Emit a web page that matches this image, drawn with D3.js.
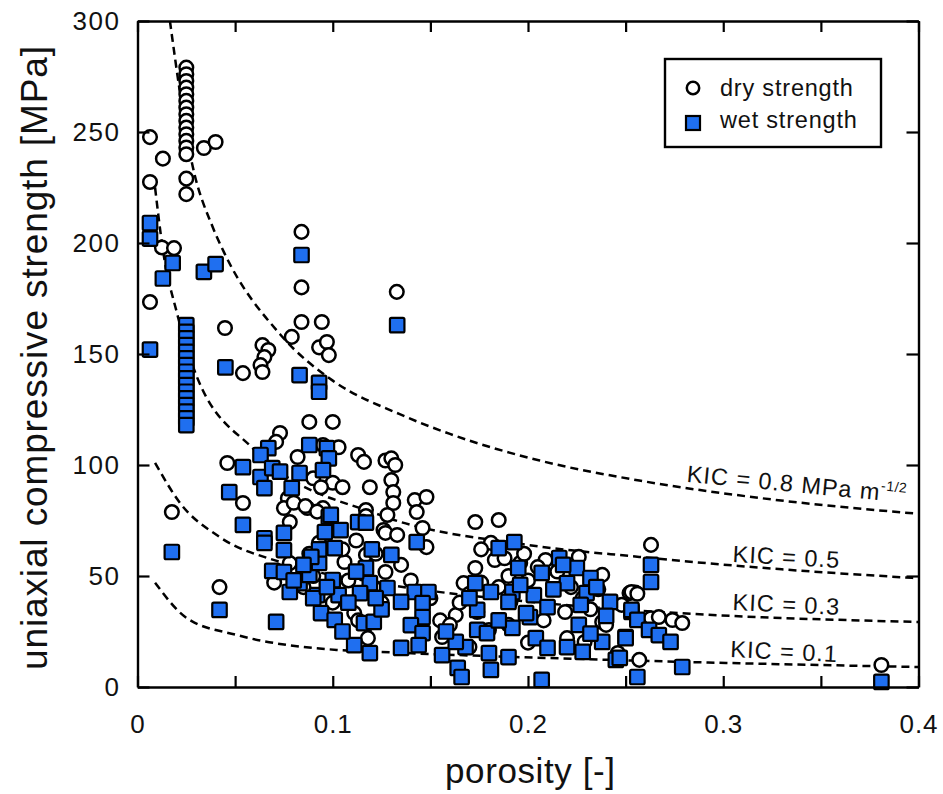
<!DOCTYPE html>
<html><head><meta charset="utf-8">
<script src="https://cdn.jsdelivr.net/npm/d3@7"></script>
<style>body{margin:0;background:#fff}text{font-family:"Liberation Sans",Arial,sans-serif;fill:#111}</style>
</head><body><svg id="c" width="943" height="794"></svg>
<script>
// ---------- data ----------
const xTickValues = [0, 0.05, 0.1, 0.15, 0.2, 0.25, 0.3, 0.35, 0.4];
const xTickLabels = ["0", "", "0.1", "", "0.2", "", "0.3", "", "0.4"];
const yTickValues = [0, 50, 100, 150, 200, 250, 300];
const yTickLabels = ["0", "50", "100", "150", "200", "250", "300"];

const dryPorosity = [
 0.025,0.025,0.025,0.025,0.025,0.025,0.025,0.025,0.025,0.025,0.025,0.025,0.025,0.025,0.025,0.025,
 0.0064,0.013,0.034,0.040,0.0064,0.0125,0.0187,0.0064,0.0448,0.084,0.084,0.084,0.0944,0.1328,0.079,0.064,
 0.067,0.065,0.063,0.064,0.054,0.093,0.097,0.098,0.088,0.1,0.073,0.071,0.046,0.082,0.095,0.103,
 0.113,0.116,0.119,0.1,0.105,0.09,0.094,0.077,0.075,0.078,0.054,0.0176,0.087,0.127,0.126,0.095,
 0.117,0.042,0.08,0.086,0.078,0.092,0.106,0.111,0.117,0.122,0.117,
 0.130,0.132,0.130,0.131,0.131,0.128,0.127,0.133,0.142,0.148,0.143,0.146,0.148,0.127,0.173,0.185,
 0.181,0.183,0.173,0.167,0.196,0.209,0.226,0.238,0.238,0.156,0.163,0.174,0.219,0.229,0.22,0.252,
 0.255,0.191,0.213,0.18,0.246,
 0.263,0.253,0.256,0.248,0.263,0.267,0.274,0.279,0.257,0.381,
 0.105,0.112,0.108,0.121,0.125,0.135,0.14,0.15,0.155,0.16,0.165,0.17,0.176,0.185,0.19,0.2,
 0.205,0.215,0.222,0.228,0.232,0.236,0.24,0.19,0.2,0.208,0.17,0.188,0.198,0.176,0.098,0.093,
 0.088,0.09,0.085,0.1,0.113,0.118,0.07,0.073];
const dryStrength = [
 279,276,273,270,267,264,261,258,255,252,249,246,243,240,229,222,
 247.7,238,242.8,245.5,227.5,198,197.7,173.4,161.7,205,180,164.4,164.4,178,157.7,154,
 151.8,148.6,145,141.9,141.4,153,155.4,149.5,119.4,119.4,114.4,110.4,100.9,103.6,109,108,
 104.5,101.4,90,92,90,94,90,85,80.6,74.3,82.9,78.8,80.6,102,70.7,80.6,
 79.7,45,83,81.5,55.8,79,56.3,33.3,59.5,60,77,
 103,100,93.2,87.8,82.9,77.5,69.4,68.5,84.2,85.6,78.8,71.6,63,51.8,74.3,75.2,
 64.9,57.2,53.6,46.8,55.9,57.2,58.6,50.5,29.3,22.5,32.4,33.8,33.8,20.3,22,42.3,
 42.5,38.3,48.2,25.7,15.3,
 64,42.8,42,37,31,31.5,30.2,28.8,12.2,9.9,
 62,66,48,45,38,55,48,40,30,28,38,42,47,45,50,48,
 54,52,45,40,35,44,28,28,20,30,18,58,60,62,70,65,
 60,50,45,38,30,22,47,52];

const wetPorosity = [
 0.025,0.025,0.025,0.025,0.025,0.025,0.025,0.025,0.025,0.025,0.025,0.025,0.025,0.025,0.025,0.025,
 0.0064,0.0064,0.018,0.013,0.034,0.040,0.084,0.133,0.0064,0.045,0.083,0.093,0.093,0.067,0.063,0.088,
 0.097,0.098,0.054,0.063,0.069,0.073,0.083,0.065,0.079,0.095,0.047,0.054,0.098,0.096,0.104,0.113,
 0.117,0.075,0.065,0.0176,0.042,0.071,0.065,0.075,0.069,0.075,0.083,0.078,0.088,0.093,0.099,0.101,
 0.093,0.089,0.092,0.094,0.101,0.1,0.103,0.090,0.117,0.119,0.114,0.116,0.121,0.111,0.119,
 0.143,0.130,0.128,0.142,0.149,0.135,0.146,0.146,0.140,0.146,0.135,0.144,0.185,0.193,0.195,0.173,
 0.181,0.192,0.203,0.207,0.216,0.225,0.232,0.22,0.23,0.242,0.227,0.253,0.25,0.19,0.201,0.192,
 0.204,0.21,0.19,0.22,0.228,0.238,0.245,0.156,0.164,0.166,0.168,0.18,0.181,0.174,0.179,0.174,
 0.163,0.207,0.199,
 0.263,0.263,0.253,0.256,0.262,0.267,0.273,0.25,0.247,0.256,0.279,0.381,
 0.108,0.112,0.125,0.12,0.105,0.085,0.08,0.097,0.122,0.213,0.218,0.235,0.24,0.21,0.185,0.196,
 0.17,0.158,0.226,0.232];
const wetStrength = [
 163,160,157,154,151,148,145,142,139,136,133,130,127,124,121,118,
 209,202,191,184,187,190.5,194.6,163,152,144,140.5,137,133,107.6,104.5,109,
 107.6,103,99,94.6,98.6,97,96.4,89.6,89.6,97.7,87.8,73,76.6,69.8,70.7,74.3,
 74,69.4,67,60.8,34.7,29.3,64.9,61.7,52.3,51.8,46.8,42.8,50.5,55.9,77.5,62.6,
 62,58.6,41.4,33.3,30.2,48.2,41.4,40,53.6,46.8,42.3,28.8,29.3,18.9,15.3,
 65.3,59.5,44.6,42.8,42.8,38.3,37.8,31.5,27.9,24.3,17.6,18.9,62.6,65.3,53.6,46.8,
 42.8,42.8,41.4,51.4,58.1,53.6,49.1,46.8,42.3,38.3,37,33.8,22.5,38.3,31.5,26.6,
 22,17.6,13.5,18,15.8,20.3,12.2,14.4,8.6,4.5,18,15.3,7.7,25.7,24.3,34.7,
 20.3,3.2,33.3,
 55,47.3,34.7,30.2,25.7,23.4,20.3,22,13.1,4.5,9,2.3,
 38,52,35,62,25,55,48,45,40,44,55,45,32,36,30,46,
 40,25,28,24];

// KIC model curves
const k08Porosity = [0.0166,0.0279,0.0386,0.0442,0.0729,0.1,0.134,0.160,0.206,0.257,0.32,0.4];
const k08Strength = [300,236,207,196,159,138,123,114,102,93,85,78];
const k05Porosity = [0.009,0.013,0.0202,0.0294,0.0596,0.124,0.2,0.257,0.33,0.4];
const k05Strength = [225,197,168.5,142,107,77.5,64,58.6,53,49];
const k03Porosity = [0.009,0.0217,0.042,0.073,0.124,0.2,0.277,0.4];
const k03Strength = [101,83,67.6,56.3,46.8,38.5,33.3,29.3];
const k01Porosity = [0.009,0.0253,0.051,0.102,0.124,0.243,0.4];
const k01Strength = [47,31,23.4,16.7,15.8,12.2,9];

const curveLabels = ["KIC = 0.8 MPa m", "KIC = 0.5", "KIC = 0.3", "KIC = 0.1"];
const legendLabels = ["dry strength", "wet strength"];

// ---------- drawing ----------
const svg = d3.select("#c");
const L = 137.5, R = 918.5, T = 21, B = 687;
const x = d3.scaleLinear().domain([0, 0.4]).range([L, R]);
const y = d3.scaleLinear().domain([0, 300]).range([B, T]);
const BLUE = "#1f6ff0";

// curves
const line = d3.line().x(d => x(d[0])).y(d => y(d[1])).curve(d3.curveMonotoneX);
[[k08Porosity,k08Strength],[k05Porosity,k05Strength],[k03Porosity,k03Strength],[k01Porosity,k01Strength]]
 .forEach(([px, py]) => {
  svg.append("path").datum(px.map((p,i)=>[p,py[i]]))
    .attr("d", line).attr("fill","none").attr("stroke","#000")
    .attr("stroke-width",2.5).attr("stroke-dasharray","8,5");
 });

// dry circles
svg.append("g").selectAll("circle").data(dryPorosity.map((p,i)=>[p,dryStrength[i]]))
 .join("circle").attr("cx",d=>x(d[0])).attr("cy",d=>y(d[1])).attr("r",6.8)
 .attr("fill","#fff").attr("stroke","#000").attr("stroke-width",2.5);

// wet squares
const S = 14.5;
svg.append("g").selectAll("rect").data(wetPorosity.map((p,i)=>[p,wetStrength[i]]))
 .join("rect").attr("x",d=>x(d[0])-S/2).attr("y",d=>y(d[1])-S/2).attr("width",S).attr("height",S)
 .attr("rx",1.5).attr("fill",BLUE).attr("stroke","#000").attr("stroke-width",2.2);

// curve labels
const labelPos = [[0.281,92.5,5.5],[0.3046,56.3,3.2],[0.3046,34.7,2.7],[0.3035,13.5,2.7]];
labelPos.forEach((lp,i)=>{
  const t = svg.append("text")
    .attr("transform",`translate(${x(lp[0])},${y(lp[1])}) rotate(${lp[2]})`)
    .attr("font-size",23.5).attr("letter-spacing",1).attr("fill","#000").text(curveLabels[i]);
  if (i===0) t.append("tspan").attr("font-size",14).attr("dy",-10).attr("letter-spacing",0.5).text("-1/2");
});

// frame + axes
const fmtX = d => xTickLabels[xTickValues.indexOf(d)];
const fmtY = d => yTickLabels[yTickValues.indexOf(d)];
const gB = svg.append("g").attr("transform",`translate(0,${B})`)
 .call(d3.axisBottom(x).tickValues(xTickValues).tickFormat(fmtX).tickSizeInner(-11).tickSizeOuter(0).tickPadding(28));
const gT = svg.append("g").attr("transform",`translate(0,${T})`)
 .call(d3.axisTop(x).tickValues(xTickValues).tickFormat("").tickSizeInner(-11).tickSizeOuter(0));
const gL = svg.append("g").attr("transform",`translate(${L},0)`)
 .call(d3.axisLeft(y).tickValues(yTickValues).tickFormat(fmtY).tickSizeInner(-12).tickSizeOuter(0).tickPadding(17));
const gR = svg.append("g").attr("transform",`translate(${R},0)`)
 .call(d3.axisRight(y).tickValues(yTickValues).tickFormat("").tickSizeInner(-12).tickSizeOuter(0));
[gB,gT,gL,gR].forEach(g=>{
  g.select(".domain").attr("stroke","#000").attr("stroke-width",2.4);
  g.selectAll(".tick line").attr("stroke","#000").attr("stroke-width",2.2);
  g.selectAll(".tick text").attr("font-size",26).attr("letter-spacing",1)
   .attr("font-family","Liberation Sans, Arial, sans-serif").attr("fill","#000");
});
gL.selectAll(".tick text").attr("letter-spacing",1.5);

// axis titles
svg.append("text").attr("x",530).attr("y",783).attr("text-anchor","middle").attr("fill","#000")
 .attr("font-size",35).attr("textLength",170).attr("lengthAdjust","spacing").text("porosity [-]");
svg.append("text").attr("transform","translate(47,358) rotate(-90)").attr("text-anchor","middle")
 .attr("font-size",37).attr("fill","#000").attr("textLength",624).attr("lengthAdjust","spacing")
 .text("uniaxial compressive strength [MPa]");

// legend
const lg = svg.append("g");
lg.append("rect").attr("x",665).attr("y",59).attr("width",216).attr("height",88)
 .attr("fill","#fff").attr("stroke","#000").attr("stroke-width",2.4);
lg.append("circle").attr("cx",693).attr("cy",88).attr("r",6.2).attr("fill","#fff")
 .attr("stroke","#000").attr("stroke-width",2.5);
lg.append("rect").attr("x",693-7).attr("y",123-7).attr("width",14).attr("height",14)
 .attr("fill",BLUE).attr("stroke","#000").attr("stroke-width",2.2);
lg.selectAll("text.lt").data(legendLabels).join("text").attr("class","lt").attr("fill","#000")
 .attr("x",720).attr("y",(d,i)=>i===0?96:128).attr("font-size",23.5).attr("letter-spacing",0.8).text(d=>d);
</script></body></html>
